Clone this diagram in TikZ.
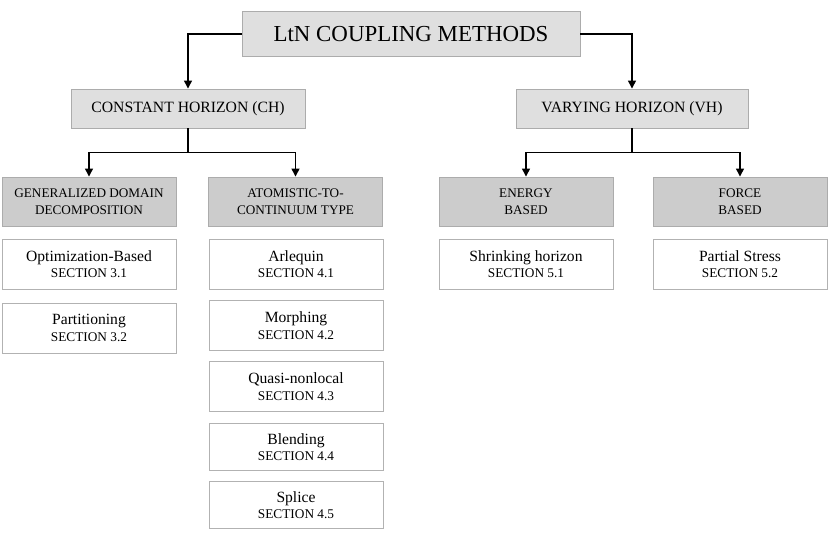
\documentclass[tikz,border=0pt]{standalone}
\usepackage{fontspec}
\setmainfont{Liberation Serif}
\usetikzlibrary{arrows.meta}
\newcommand{\secline}[1]{{\fontsize{13.3}{15}\selectfont #1}}

\begin{document}
\begin{tikzpicture}[x=1pt,y=-1pt,
    head/.style={draw=gray!65,fill=gray!25,line width=0.9pt,inner sep=0pt,align=center},
    sub/.style={draw=gray!65,fill=gray!40,line width=0.9pt,inner sep=0pt,align=center,
        minimum width=174pt,minimum height=49pt,font=\fontsize{13.2}{16.5}\selectfont},
    item/.style={draw=gray!60,fill=white,line width=0.9pt,inner sep=0pt,align=center,
        minimum width=174pt,font=\fontsize{15.6}{16.5}\selectfont},
    link/.style={line width=1.3pt,-{Triangle[length=8pt,width=8pt]}}]
\useasboundingbox (0,0) rectangle (830,535);

% heads
\node[head,minimum width=338pt,minimum height=45pt,font=\fontsize{22.9}{24}\selectfont] (top) at (411,34) {LtN COUPLING METHODS};
\node[head,minimum width=234pt,minimum height=39pt,font=\fontsize{15.7}{17}\selectfont] (ch) at (188,108.5) {CONSTANT HORIZON (CH)};
\node[head,minimum width=232pt,minimum height=39pt,font=\fontsize{15.7}{17}\selectfont] (vh) at (632,108.5) {VARYING HORIZON (VH)};

% groups
\node[sub] (gdd) at (89,201.5) {GENERALIZED DOMAIN\\DECOMPOSITION};
\node[sub] (atc) at (295.5,201.5) {ATOMISTIC-TO-\\CONTINUUM TYPE};
\node[sub] (eb) at (526,201.5) {ENERGY\\BASED};
\node[sub] (fb) at (740,201.5) {FORCE\\BASED};

% methods
\node[item,minimum height=50pt] (opt) at (89,264) {Optimization-Based\\\secline{SECTION 3.1}};
\node[item,minimum height=50pt] (part) at (89,328) {Partitioning\\\secline{SECTION 3.2}};
\node[item,minimum height=50pt] (arl) at (296,264) {Arlequin\\\secline{SECTION 4.1}};
\node[item,minimum height=50pt] (morph) at (296,325.5) {Morphing\\\secline{SECTION 4.2}};
\node[item,minimum height=50pt] (qnl) at (296,386.5) {Quasi-nonlocal\\\secline{SECTION 4.3}};
\node[item,minimum height=47pt] (blend) at (296,447) {Blending\\\secline{SECTION 4.4}};
\node[item,minimum height=47pt] (spl) at (296,505) {Splice\\\secline{SECTION 4.5}};
\node[item,minimum height=50pt] (shr) at (526,264) {Shrinking horizon\\\secline{SECTION 5.1}};
\node[item,minimum height=50pt] (ps) at (740,264) {Partial Stress\\\secline{SECTION 5.2}};

% connectors
\draw[link] (top.west) -| (ch.north);
\draw[link] (top.east) -| (vh.north);
\draw[line width=1.3pt] (ch.south) -- ++(0,24) coordinate (chj);
\draw[link] (chj) -| (gdd.north);
\draw[link] (chj) -| (atc.north);
\draw[line width=1.3pt] (vh.south) -- ++(0,24) coordinate (vhj);
\draw[link] (vhj) -| (eb.north);
\draw[link] (vhj) -| (fb.north);
\end{tikzpicture}
\end{document}
